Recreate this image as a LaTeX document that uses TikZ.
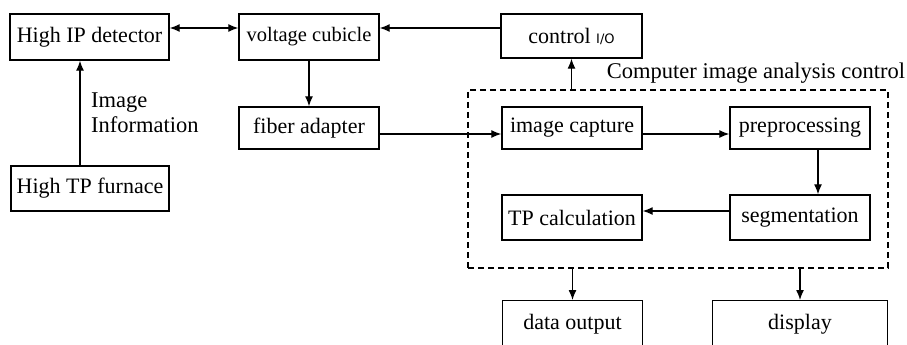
\documentclass[tikz,border=0pt]{standalone}
\usepackage{fontspec}
\setmainfont{Liberation Serif}
\newfontfamily\serifface{Liberation Serif}
\newfontfamily\iofont{DejaVu Sans}
\usetikzlibrary{arrows.meta}
\begin{document}
\begin{tikzpicture}[x=1pt,y=-1pt,
  blk/.style={draw,line width=1.4pt,minimum height=#1,inner sep=0pt,font=\serifface\fontsize{22}{26}\selectfont},
  blk/.default=44pt,
  arr/.style={line width=1.3pt,-{Latex[length=10pt,width=8pt]}},
  darr/.style={line width=1.3pt,{Latex[length=10pt,width=8pt]}-{Latex[length=10pt,width=8pt]}},
  lbl/.style={font=\serifface\fontsize{22.5}{25}\selectfont,inner sep=0pt}]
\useasboundingbox (0,0) rectangle (907,345);
\clip (0,0) rectangle (907,345);
\node[blk=46pt,minimum width=159pt] (det) at (89.5,37) {High IP detector};
\node[blk=46pt,minimum width=140pt,font=\serifface\fontsize{20.5}{24}\selectfont] (volt) at (309,37) {voltage cubicle};
\node[blk=44pt,minimum width=141pt] (ctrl) at (571.5,36) {control {\iofont\fontsize{13}{15}\selectfont I/O}};
\node[blk=42pt,minimum width=140pt] (fib) at (309,128) {fiber adapter};
\node[blk=45pt,minimum width=158pt] (fur) at (90,188.5) {High TP furnace};
\node[blk=42pt,minimum width=140pt] (cap) at (572,128) {image capture};
\node[blk=42pt,minimum width=140pt] (pre) at (800,128) {preprocessing};
\node[blk=45pt,minimum width=140pt] (seg) at (800,217.5) {segmentation};
\node[blk=45pt,minimum width=140pt] (tpc) at (572,217.5) {TP calculation};
\node[blk=48pt,minimum width=140pt,anchor=north] (dout) at (572.5,300) {data output};
\node[blk=48pt,minimum width=175pt,anchor=north] (disp) at (800,300) {display};
\node[draw,dash pattern=on 6pt off 4pt,line width=1.3pt,minimum width=420pt,minimum height=178pt,inner sep=0pt] (cia) at (678,179) {};
\node[lbl] (cialbl) at (756,73) {Computer image analysis control};
\node[lbl,align=left,anchor=north west] (imginfo) at (91,93) {Image\\Information};
\coordinate (r28) at (0,28);
\coordinate (r134) at (0,134);
\coordinate (r211) at (0,211);
\coordinate (c80) at (80,0);
\coordinate (c818) at (818,0);
\draw[darr] (det.east |- r28) -- (volt.west |- r28);
\draw[arr] (ctrl.west |- r28) -- (volt.east |- r28);
\draw[arr] (volt.south) -- (fib.north);
\draw[arr] (fur.north -| c80) -- (det.south -| c80);
\draw[arr] (fib.east |- r134) -- (cap.west |- r134);
\draw[arr] (cap.east |- r134) -- (pre.west |- r134);
\draw[arr] (pre.south -| c818) -- (seg.north -| c818);
\draw[arr] (seg.west |- r211) -- (tpc.east |- r211);
\draw[arr] (cia.north -| ctrl.south) -- (ctrl.south);
\draw[arr] (cia.south -| dout.north) -- (dout.north);
\draw[arr] (cia.south -| disp.north) -- (disp.north);
\end{tikzpicture}
\end{document}
